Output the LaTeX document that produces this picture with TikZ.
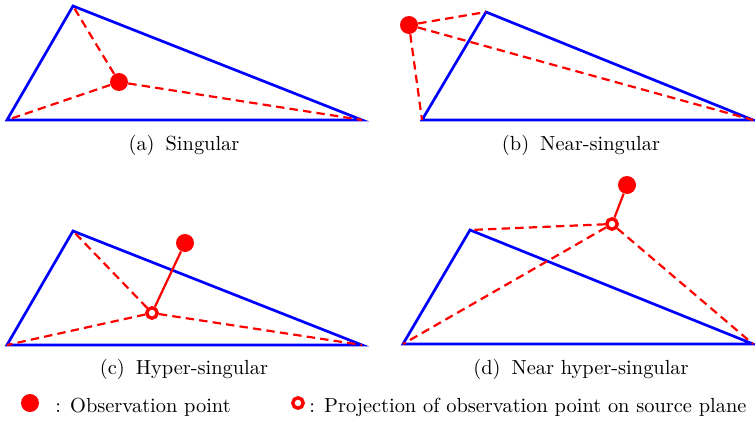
\documentclass[tikz,border=0pt]{standalone}
\usepackage{tikz}
\usetikzlibrary{positioning}

\begin{document}
\begin{tikzpicture}[
  x=0.5pt, y=-0.5pt,
  tri/.style={draw=blue, line width=1.35pt, line join=miter},
  ray/.style={red, line width=1.1pt, dash pattern=on 4.2pt off 2.6pt},
  obs/.style={circle, fill=red, minimum size=9pt, inner sep=0pt},
  proj/.style={circle, draw=red, fill=white, line width=1.7pt,
               minimum size=5.2pt, inner sep=0pt},
  link/.style={red, line width=1.1pt},
  caption/.style={font=\fontsize{10.2}{12}\selectfont, inner sep=0pt}
]
\useasboundingbox (0,0) rectangle (755,423);

% (a) Singular
\coordinate (A1) at (7,120);
\coordinate (A2) at (73,6);
\coordinate (A3) at (362,120);
\draw[tri] (A1) -- (A2) -- (A3) -- cycle;
\node[obs] (Pa) at (119,82) {};
\foreach \v in {A1,A2,A3}{
  \draw[ray] (Pa) -- (\v);
}
\node[caption] (capa) at (184,145) {(a)\hspace{5.5pt}Singular};

% (b) Near-singular
\coordinate (B1) at (422,120);
\coordinate (B2) at (486,12);
\coordinate (B3) at (753,120);
\draw[tri] (B1) -- (B2) -- (B3) -- cycle;
\node[obs] (Pb) at (409,25) {};
\foreach \v in {B1,B2,B3}{
  \draw[ray] (Pb) -- (\v);
}
\node[caption] (capb) at (581,145) {(b)\hspace{5.5pt}Near-singular};

% (c) Hyper-singular
\coordinate (C1) at (7,345);
\coordinate (C2) at (73,231);
\coordinate (C3) at (362,345);
\draw[tri] (C1) -- (C2) -- (C3) -- cycle;
\node[proj] (Qc) at (152,313) {};
\node[obs] (Pc) at (185,243) {};
\foreach \v in {C1,C2,C3}{
  \draw[ray] (Qc) -- (\v);
}
\draw[link] (Qc) -- (Pc);
\node[caption] (capc) at (184,369) {(c)\hspace{5.5pt}Hyper-singular};

% (d) Near hyper-singular
\coordinate (D1) at (403,344);
\coordinate (D2) at (470,230);
\coordinate (D3) at (753,344);
\draw[tri] (D1) -- (D2) -- (D3) -- cycle;
\node[proj] (Qd) at (612,224) {};
\node[obs] (Pd) at (627,185) {};
\foreach \v in {D1,D2,D3}{
  \draw[ray] (Qd) -- (\v);
}
\draw[link] (Qd) -- (Pd);
\node[caption] (capd) at (581,369) {(d)\hspace{5.5pt}Near hyper-singular};

% Legend
\node[obs] (legobs) at (30,403) {};
\node[caption, anchor=west] (legobstxt) at (55,407) {: Observation point};
\node[proj] (legproj) at (298,403) {};
\node[caption, anchor=west] (legprojtxt) at (309,407) {: Projection of observation point on source plane};

\end{tikzpicture}
\end{document}
